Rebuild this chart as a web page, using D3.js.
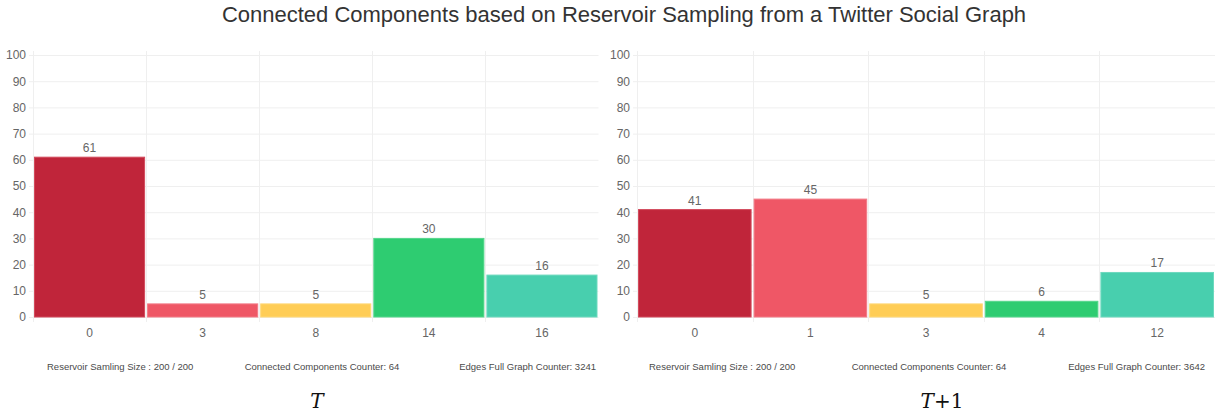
<!DOCTYPE html>
<html>
<head>
<meta charset="utf-8">
<script src="https://cdn.jsdelivr.net/npm/d3@7"></script>
<style>
  html, body { margin: 0; padding: 0; background: #fff; }
  svg { display: block; }
</style>
</head>
<body>
<svg id="chart" width="1229" height="417"></svg>
<script>
// Component sizes (bar labels) and counts at two time steps
const categoriesT = ["0", "3", "8", "14", "16"];
const valuesT = [61, 5, 5, 30, 16];
const categoriesT1 = ["0", "1", "3", "4", "12"];
const valuesT1 = [41, 45, 5, 6, 17];
const yTicks = [0, 10, 20, 30, 40, 50, 60, 70, 80, 90, 100];
const barColors = ["#c0253a", "#ef5766", "#ffcd56", "#2ecc71", "#48cfae"];
const barEdges = ["#d24a5c", "#f27a86", "#ffd877", "#55d68c", "#6dd9be"];
const footerT = ["Reservoir Samling Size : 200 / 200", "Connected Components Counter: 64", "Edges Full Graph Counter: 3241"];
const footerT1 = ["Reservoir Samling Size : 200 / 200", "Connected Components Counter: 64", "Edges Full Graph Counter: 3642"];

const svg = d3.select("#chart");
const FONT = "'Liberation Sans', Arial, Helvetica, sans-serif";

svg.append("text")
  .attr("x", 624).attr("y", 22)
  .attr("text-anchor", "middle")
  .attr("font-family", FONT)
  .attr("font-size", 22)
  .attr("fill", "#333")
  .text("Connected Components based on Reservoir Sampling from a Twitter Social Graph");

function panel(opts) {
  const { x0, x1, cats, vals, footer, footerPos, caption, captionX } = opts;
  const yTop = 55, yBot = 317;
  const g = svg.append("g");

  const x = d3.scaleBand().domain(cats).range([x0, x1]).padding(0);
  const y = d3.scaleLinear().domain([0, 100]).range([yBot, yTop]);

  // horizontal grid
  g.append("g").selectAll("line").data(yTicks).join("line")
    .attr("x1", x0 - 4).attr("x2", x1)
    .attr("y1", d => y(d) + 0.5).attr("y2", d => y(d) + 0.5)
    .attr("stroke", "#efefef").attr("stroke-width", 1);

  // vertical grid at category boundaries
  const bounds = cats.map(c => x(c));
  g.append("g").selectAll("line").data(bounds).join("line")
    .attr("x1", d => Math.round(d) + 0.5).attr("x2", d => Math.round(d) + 0.5)
    .attr("y1", yTop - 4).attr("y2", yBot + 5)
    .attr("stroke", "#efefef").attr("stroke-width", 1);

  // y axis labels
  const yAxis = d3.axisLeft(y).tickValues(yTicks).tickSize(0).tickPadding(0);
  const ya = g.append("g").attr("transform", `translate(${x0 - 7},0)`).call(yAxis);
  ya.select(".domain").remove();
  ya.selectAll("text").attr("font-family", FONT).attr("font-size", 12).attr("fill", "#666");

  // x axis labels
  const xAxis = d3.axisBottom(x).tickSize(0).tickPadding(0);
  const xa = g.append("g").attr("transform", `translate(0,${yBot + 11})`).call(xAxis);
  xa.select(".domain").remove();
  xa.selectAll("text").attr("font-family", FONT).attr("font-size", 12).attr("fill", "#666");

  // bars
  const inset = 1.5;
  g.append("g").selectAll("rect").data(vals).join("rect")
    .attr("x", (d, i) => x(cats[i]) + inset)
    .attr("width", x.bandwidth() - 2 * inset)
    .attr("y", d => y(d))
    .attr("height", d => yBot - y(d))
    .attr("fill", (d, i) => barColors[i])
    .attr("stroke", (d, i) => barEdges[i])
    .attr("stroke-width", 1);

  // value labels
  g.append("g").selectAll("text").data(vals).join("text")
    .attr("x", (d, i) => x(cats[i]) + x.bandwidth() / 2)
    .attr("y", d => y(d) - 5)
    .attr("text-anchor", "middle")
    .attr("font-family", FONT).attr("font-size", 12).attr("fill", "#666")
    .text(d => d);

  // footer counters
  const anchors = ["start", "middle", "end"];
  g.append("g").selectAll("text").data(footer).join("text")
    .attr("x", (d, i) => footerPos[i])
    .attr("y", 370)
    .attr("text-anchor", (d, i) => anchors[i])
    .attr("font-family", FONT).attr("font-size", 9.5).attr("fill", "#4a4a4a")
    .text(d => d);

  // time-step caption
  const cap = g.append("text")
    .attr("x", captionX).attr("y", 408)
    .attr("text-anchor", "middle")
    .attr("font-family", "'DejaVu Serif', 'Liberation Serif', serif")
    .attr("font-size", 20).attr("fill", "#111");
  cap.append("tspan").attr("font-style", "italic").text("T");
  if (caption.length > 1) cap.append("tspan").text(caption.slice(1));
}

panel({
  x0: 33, x1: 598.5, cats: categoriesT, vals: valuesT,
  footer: footerT, footerPos: [47, 322, 596],
  caption: "T", captionX: 317
});
panel({
  x0: 637, x1: 1215, cats: categoriesT1, vals: valuesT1,
  footer: footerT1, footerPos: [649, 929, 1205],
  caption: "T+1", captionX: 942
});
</script>
</body>
</html>
